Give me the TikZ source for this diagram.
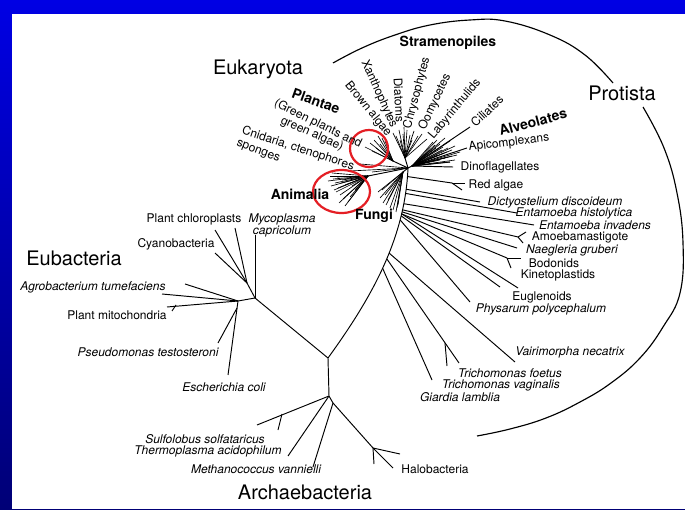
\documentclass[tikz,border=0pt]{standalone}
\usepackage{fontspec}
\setmainfont{TeX Gyre Heros}
\definecolor{topblue}{RGB}{0,0,228}
\definecolor{botblue}{RGB}{0,0,118}
\definecolor{circred}{RGB}{228,30,36}
\begin{document}
\begin{tikzpicture}[x=1pt,y=-1pt,
  br/.style={line width=0.95pt, black},
  bush/.style={line width=0.65pt, black},
  lab/.style={font=\fontsize{12}{12}\selectfont, inner sep=0pt},
  itl/.style={font=\fontsize{12}{12}\selectfont\itshape, inner sep=0pt},
  grp/.style={font=\fontsize{14}{14}\selectfont\bfseries, inner sep=0pt},
  big/.style={font=\fontsize{20}{20}\selectfont, inner sep=0pt},
  ring/.style={draw=circred, line width=2.2pt}]
\useasboundingbox (0,0) rectangle (685,510);
\shade[top color=topblue, bottom color=botblue] (0,0) rectangle (685,510);
\fill[white] (12,14) rectangle (685,508.5);

% ---- main junctions
\coordinate (H) at (408,168);
\coordinate (J1) at (328,358);
\coordinate (J2) at (329,396);
\coordinate (E) at (255,298);

% ---- long eukaryote branch
\draw[br] (H) .. controls (405,240) and (370,300) .. (J1)
  coordinate[pos=0.04] (m04) coordinate[pos=0.10] (m10)
  coordinate[pos=0.12] (m12) coordinate[pos=0.17] (m17)
  coordinate[pos=0.20] (m20) coordinate[pos=0.21] (m21)
  coordinate[pos=0.22] (m22) coordinate[pos=0.23] (m23)
  coordinate[pos=0.25] (m25) coordinate[pos=0.42] (m42)
  coordinate[pos=0.45] (m45) coordinate[pos=0.50] (m50);

% ---- right side (protists)
\coordinate (Alv) at (412,166);
\draw[br] (H) -- (Alv);
\foreach \x/\y in {433/142,435/145,437/140,440/144,442/150,443/147,445/138,447/152,448/148,450/141,452/150,455/146,457/155,460/152,455/160,450/162,430/150,438/155,445/158,440/160,448/157,436/148,444/153,452/156}
  \draw[bush] (Alv) -- (\x,\y);
\draw[br] (Alv) -- (453,167);
\draw[br] (Alv) -- (450,162);
\draw[br] (Alv) -- (467,148);
\draw[br] (Alv) -- (470,127);

\coordinate (RA) at (452,183);
\draw[br] (m04) -- (RA);
\draw[br] (RA) -- (465,183);
\draw[br] (RA) -- (462,190);
\draw[br] (m10) -- (480,202);
\draw[br] (m12) -- (517,213);
\draw[br] (m17) -- (534,225);
\coordinate (AM) at (518,237);
\draw[br] (m20) -- (AM);
\draw[br] (AM) -- (526,232);
\draw[br] (AM) -- (523,243);
\draw[br] (m21) -- (517,248);
\coordinate (BO) at (507,258);
\draw[br] (m22) -- (BO);
\draw[br] (BO) -- (521,258);
\draw[br] (BO) -- (511,268);
\draw[br] (m23) -- (500,287);
\draw[br] (m22) -- (518,288);
\draw[br] (m25) -- (470,302);
\draw[br] (m42) -- (515,362);
\coordinate (TR) at (445,343);
\draw[br] (m45) -- (459,363);
\draw[br] (TR) -- (447,366);
\draw[br] (m50) -- (432,380);

% ---- stramenopiles bush
\coordinate (Str) at (405,158);
\draw[br] (H) -- (Str);
\foreach \x/\y in {393/133,396/136,399/130,403/134,404/127,407/130,410/135,414/131,418/136,422/134,427/139,400/140,412/140}
  \draw[bush] (Str) -- (\x,\y);

% ---- plantae bush
\coordinate (Pl) at (393,161);
\draw[br] (H) -- (Pl);
\foreach \x/\y in {365/147,370/143,374/140,378/136,382/138,380/144,376/148,385/141,372/151}
  \draw[bush] (Pl) -- (\x,\y);

% ---- animalia bush
\coordinate (An) at (368,176);
\draw[br] (H) -- (An);
\draw[bush] (H) -- (360,164);
\draw[bush] (H) -- (350,171);
\draw[bush] (H) -- (372,172);
\foreach \x/\y in {330/176,333/179,328/181,335/183,331/186,338/188,336/192,340/195,343/199,339/203,345/206,348/202,350/197,342/180,345/185,332/173,355/190,337/177,341/183,334/190,352/186}
  \draw[bush] (An) -- (\x,\y);

% ---- fungi bush
\coordinate (Fu) at (403,172);
\draw[br] (H) -- (Fu);
\foreach \x/\y in {380/198,383/203,386/205,390/208,393/210,396/212,398/205,388/200,378/192,385/195,397/208,382/190}
  \draw[bush] (Fu) -- (\x,\y);

% ---- eubacteria
\draw[br] (J1) -- (E);
\draw[br] (E) -- (255,235);
\coordinate (Cy) at (247,283);
\draw[br] (E) -- (Cy);
\draw[br] (Cy) -- (215,230);
\draw[br] (Cy) -- (235,228);
\draw[br] (Cy) -- (215,253);
\coordinate (A) at (238,301);
\draw[br] (E) -- (A);
\draw[br] (A) -- (185,284);
\draw[br] (A) -- (162,294);
\draw[br] (A) -- (167,307);
\draw[br] (176,305) -- (172,311);
\draw[br] (A) -- (228,375);
\coordinate (Ps) at (237,308);
\draw[br] (Ps) -- (218,343);

% ---- archaebacteria
\draw[br] (J1) -- (J2);
\draw[br] (J2) -- (257,425);
\draw[br] (282,414) -- (278,430);
\draw[br] (J2) -- (288,456);
\coordinate (K) at (333,403);
\draw[br] (J2) -- (K);
\draw[br] (K) -- (313,467);
\coordinate (Hb) at (373,448);
\draw[br] (K) -- (Hb);
\draw[br] (Hb) -- (393,468);
\draw[br] (Hb) -- (400,454);
\draw[br] (Hb) -- (374,464);

% ---- protista arc
\draw[line width=1.15pt] plot[smooth, tension=0.7] coordinates {(333,63) (362,48) (395,35) (430,25) (470,20) (505,21) (550,35) (585,55) (613,83)};
\draw[line width=1.15pt] plot[smooth, tension=0.7] coordinates {(643,107) (664,148) (677,193) (683,243) (680,293) (663,327) (640,358) (611,383) (580,402) (546,418) (510,429) (477,436)};

% ---- red rings
\draw[ring] (369,148.5) ellipse [x radius=19pt, y radius=18.5pt];
\draw[ring] (341.5,191.5) ellipse [x radius=28.5pt, y radius=21.5pt];

% ---- big labels
\node[big] (eukaryota) at (258,69) {Eukaryota};
\node[big] (eubacteria) at (74,258) {Eubacteria};
\node[big] (protista) at (622,93) {Protista};
\node[big] (archaea) at (305,492) {Archaebacteria};

% ---- group labels
\node[grp] (stram) at (448,43) {Stramenopiles};
\node[grp, rotate=15] (alveol) at (533,122) {Alveolates};
\node[grp, rotate=-20] (plantae) at (316,101) {Plantae};
\node[grp] (animalia) at (300,194) {Animalia};
\node[grp] (fungi) at (374,216) {Fungi};

% ---- stramenopile / alveolate labels
\node[lab] (dino) at (500,167) {Dinoflagellates};
\node[lab, rotate=7] (apico) at (509,143) {Apicomplexans};
\node[lab, rotate=43] (cili) at (487,111) {Ciliates};
\node[lab, rotate=50] (laby) at (455,109) {Labyrinthulids};
\node[lab, rotate=65] (oomy) at (435,102) {Oomycetes};
\node[lab, rotate=75] (chry) at (417,93) {Chrysophytes};
\node[lab, rotate=-87] (diat) at (399,100) {Diatoms};
\node[lab, rotate=-66] (xant) at (379,94) {Xanthophytes};
\node[lab, rotate=-51] (brown) at (368,109) {Brown algae};
\node[lab, rotate=-26] (green1) at (318,124) {(Green plants and};
\node[lab, rotate=-24] (green2) at (312,134) {green algae)};
\node[lab, rotate=-18] (cnid) at (298,149) {Cnidaria, ctenophores};
\node[lab, rotate=-21] (spong) at (258,152) {sponges};

% ---- protist labels
\node[lab] (red) at (496,185) {Red algae};
\node[itl] (dicty) at (555,202) {Dictyostelium discoideum};
\node[itl] (enth) at (574,213) {Entamoeba histolytica};
\node[itl] (enti) at (595,225) {Entamoeba invadens};
\node[lab] (amoeb) at (580,237) {Amoebamastigote};
\node[itl] (naeg) at (572,250) {Naegleria gruberi};
\node[lab] (bodo) at (554,263) {Bodonids};
\node[lab] (kine) at (558,275) {Kinetoplastids};
\node[lab] (eugl) at (542,297) {Euglenoids};
\node[itl] (phys) at (541,309) {Physarum polycephalum};
\node[itl] (vair) at (570,352) {Vairimorpha necatrix};
\node[itl] (trif) at (510,373) {Trichomonas foetus};
\node[itl] (triv) at (501,385) {Trichomonas vaginalis};
\node[itl] (giar) at (460,397) {Giardia lamblia};

% ---- archaea labels
\node[itl] (sulf) at (205,439) {Sulfolobus solfataricus};
\node[itl] (therm) at (208,451) {Thermoplasma acidophilum};
\node[itl] (meth) at (256,469) {Methanococcus vannielli};
\node[lab] (halo) at (435,469) {Halobacteria};

% ---- eubacteria labels
\node[lab] (chlor) at (194,219) {Plant chloroplasts};
\node[itl, align=center] (myco) at (282,225) {Mycoplasma\\capricolum};
\node[lab] (cyano) at (176,244) {Cyanobacteria};
\node[itl] (agro) at (93,287) {Agrobacterium tumefaciens};
\node[lab] (mito) at (117,315) {Plant mitochondria};
\node[itl] (pseu) at (148,352) {Pseudomonas testosteroni};
\node[itl] (ecoli) at (224,387) {Escherichia coli};
\end{tikzpicture}
\end{document}
